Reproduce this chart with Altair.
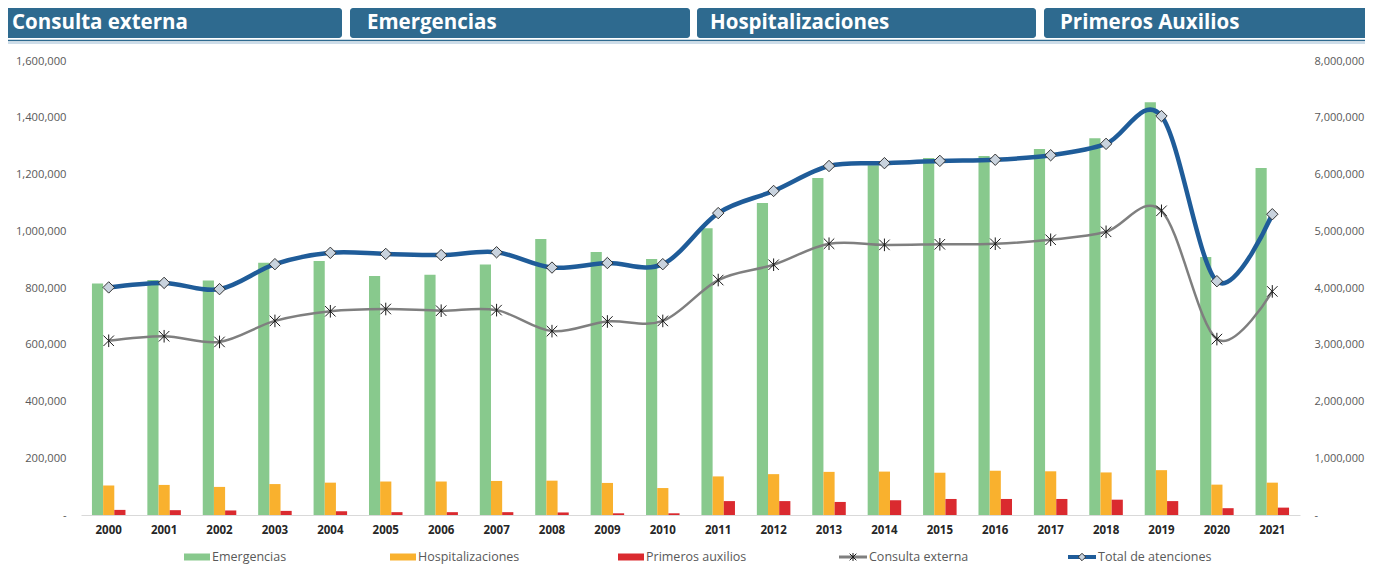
import altair as alt
import pandas as pd

# ---------------- data ----------------
years = ["2000", "2001", "2002", "2003", "2004", "2005", "2006", "2007", "2008", "2009", "2010",
         "2011", "2012", "2013", "2014", "2015", "2016", "2017", "2018", "2019", "2020", "2021"]

emergencias = [816000, 828000, 826000, 889000, 895000, 842000, 847000, 883000, 973000, 927000, 902000,
               1011000, 1100000, 1188000, 1233000, 1258000, 1265000, 1290000, 1328000, 1455000, 909000, 1223000]
hospitalizaciones = [104000, 106000, 99000, 109000, 114000, 118000, 118000, 120000, 121000, 113000, 95000,
                     136000, 144000, 152000, 153000, 149000, 156000, 154000, 150000, 158000, 107000, 114000]
primeros_auxilios = [18000, 17000, 16000, 14500, 13000, 10000, 10000, 10000, 9000, 6000, 6000,
                     49000, 49000, 46000, 52000, 56500, 56500, 56500, 54000, 49000, 24000, 26000]
consulta_externa = [3070000, 3150000, 3050000, 3420000, 3590000, 3630000, 3600000, 3610000, 3240000, 3410000, 3420000,
                    4140000, 4410000, 4780000, 4760000, 4770000, 4780000, 4850000, 4990000, 5360000, 3100000, 3940000]
total_atenciones = [4010000, 4090000, 3980000, 4420000, 4620000, 4600000, 4580000, 4630000, 4360000, 4440000, 4420000,
                    5320000, 5710000, 6150000, 6200000, 6240000, 6260000, 6340000, 6540000, 7030000, 4120000, 5300000]

bar_series = ["Emergencias", "Hospitalizaciones", "Primeros auxilios"]
line_series = ["Consulta externa", "Total de atenciones"]
header_titles = ["Consulta externa", "Emergencias", "Hospitalizaciones", "Primeros Auxilios"]
left_ticks = [0, 200000, 400000, 600000, 800000, 1000000, 1200000, 1400000, 1600000]
right_ticks = [0, 1000000, 2000000, 3000000, 4000000, 5000000, 6000000, 7000000, 8000000]

# ---------------- styles ----------------
FONT = "Open Sans"
BAR_COLORS = ["#88C98D", "#F9B12E", "#DA2A2F"]
GRAY = "#7F7F7F"
BLUE = "#1F5C99"
HEADER = "#2E6A8F"
LABEL = "#595959"
STAR = "M-1,-1L1,1M-1,1L1,-1M0,-1.2L0,1.2"

W, H = 1219, 454

df_bars = pd.DataFrame({
    "year": years * 3,
    "serie": [bar_series[0]] * len(years) + [bar_series[1]] * len(years) + [bar_series[2]] * len(years),
    "value": emergencias + hospitalizaciones + primeros_auxilios,
})
df_ce = pd.DataFrame({"year": years, "value": consulta_externa})
df_tot = pd.DataFrame({"year": years, "value": total_atenciones})
one = pd.DataFrame({"k": [0]})

x_enc = alt.X(
    "year:N", sort=years,
    scale=alt.Scale(paddingInner=0.395, paddingOuter=0.1975),
    axis=alt.Axis(title=None, labelAngle=0, labelFont=FONT, labelFontSize=11.5, labelFontWeight="bold",
                  labelColor="#262626", labelPadding=9, ticks=False, tickSize=0,
                  domainColor="#D9D9D9", domainWidth=1, grid=False),
)

y_left = alt.Y(
    "value:Q",
    scale=alt.Scale(domain=[0, 1600000], nice=False),
    axis=alt.Axis(title=None, orient="left", values=left_ticks, grid=False, domain=False, ticks=False,
                  tickSize=0, labelPadding=15, labelFont=FONT, labelFontSize=11.2, labelColor=LABEL,
                  labelExpr="datum.value == 0 ? '-\u00a0\u00a0\u00a0' : format(datum.value, ',')"),
)

right_axis = alt.Axis(title=None, orient="right", values=right_ticks, grid=False, domain=False, ticks=False,
                      tickSize=0, labelPadding=14, labelFont=FONT, labelFontSize=11, labelColor=LABEL,
                      labelExpr="datum.value == 0 ? '-' : format(datum.value, ',')")
y_right = alt.Y("value:Q", scale=alt.Scale(domain=[0, 8000000], nice=False), axis=right_axis)

bars = alt.Chart(df_bars).mark_bar().encode(
    x=x_enc,
    xOffset=alt.XOffset("serie:N", sort=bar_series, scale=alt.Scale(paddingInner=0, paddingOuter=0)),
    y=y_left,
    color=alt.Color("serie:N", scale=alt.Scale(domain=bar_series, range=BAR_COLORS), legend=None),
)

ce_line = alt.Chart(df_ce).mark_line(interpolate="cardinal", color=GRAY, strokeWidth=2.5).encode(x=x_enc, y=y_right)
ce_pts = alt.Chart(df_ce).mark_point(shape=STAR, size=110, filled=False, color="#1A1A1A",
                                     strokeWidth=1, opacity=1).encode(x=x_enc, y=y_right)
tot_line = alt.Chart(df_tot).mark_line(interpolate="cardinal", color=BLUE, strokeWidth=4.5).encode(x=x_enc, y=y_right)
tot_pts = alt.Chart(df_tot).mark_point(shape="diamond", size=130, filled=True, fill="#C9D3DE", stroke="#333333",
                                       strokeWidth=1, opacity=1).encode(x=x_enc, y=y_right)
lines = alt.layer(ce_line, ce_pts, tot_line, tot_pts)

# ---------------- header (decoration, pixel positions relative to plot origin) ----------------
deco = []
box_x = [(-78, 261), (269, 609), (616, 955), (963, 1310)]
text_x = [-69, 286, 629, 979]
for (x0, x1), tx, title in zip(box_x, text_x, header_titles):
    deco.append(alt.Chart(one).mark_rect(color=HEADER, cornerRadius=3).encode(
        x=alt.value(x0), x2=alt.value(x1), y=alt.value(-53), y2=alt.value(-23)))
    deco.append(alt.Chart(one).mark_text(text=title, font=FONT, fontSize=20.5, fontWeight="bold", color="white",
                                          align="left", baseline="middle").encode(x=alt.value(tx), y=alt.value(-38.5)))
deco.append(alt.Chart(one).mark_rule(color=HEADER, strokeWidth=1.5).encode(
    x=alt.value(-81), x2=alt.value(1300), y=alt.value(-20.5)))
deco.append(alt.Chart(one).mark_rule(color="#9DBBD3", strokeWidth=1).encode(
    x=alt.value(-81), x2=alt.value(1300), y=alt.value(-18)))

# ---------------- legend ----------------
LY = 496
leg_rect_x = [103, 309, 537]
for x0, name, col in zip(leg_rect_x, bar_series, BAR_COLORS):
    deco.append(alt.Chart(one).mark_rect(color=col).encode(
        x=alt.value(x0), x2=alt.value(x0 + 26), y=alt.value(LY - 3.5), y2=alt.value(LY + 3.5)))
    deco.append(alt.Chart(one).mark_text(text=name, font=FONT, fontSize=12.5, color=LABEL, align="left",
                                          baseline="middle").encode(x=alt.value(x0 + 28), y=alt.value(LY)))
leg_line_x = [758, 987]
line_cols = [GRAY, BLUE]
line_w = [3, 4]
for i, (x0, name) in enumerate(zip(leg_line_x, line_series)):
    deco.append(alt.Chart(one).mark_rule(color=line_cols[i], strokeWidth=line_w[i]).encode(
        x=alt.value(x0), x2=alt.value(x0 + 28), y=alt.value(LY)))
    if i == 0:
        deco.append(alt.Chart(one).mark_point(shape=STAR, size=45, filled=False, color="#1A1A1A", strokeWidth=1,
                                              opacity=1).encode(x=alt.value(x0 + 14), y=alt.value(LY)))
    else:
        deco.append(alt.Chart(one).mark_point(shape="diamond", size=55, filled=True, fill="#C9D3DE",
                                              stroke="#333333", strokeWidth=1, opacity=1).encode(
            x=alt.value(x0 + 14), y=alt.value(LY)))
    deco.append(alt.Chart(one).mark_text(text=name, font=FONT, fontSize=12.5, color=LABEL, align="left",
                                          baseline="middle").encode(x=alt.value(x0 + 30), y=alt.value(LY)))

chart = alt.layer(bars, lines, *deco).resolve_scale(y="independent").properties(
    width=W, height=H,
    autosize=alt.AutoSizeParams(type="none"),
    padding={"left": 73, "top": 53, "right": 65, "bottom": 52},
    background="white",
).configure_view(stroke=None)

chart.save("out.html", embed_options={"renderer": "svg", "actions": False})
